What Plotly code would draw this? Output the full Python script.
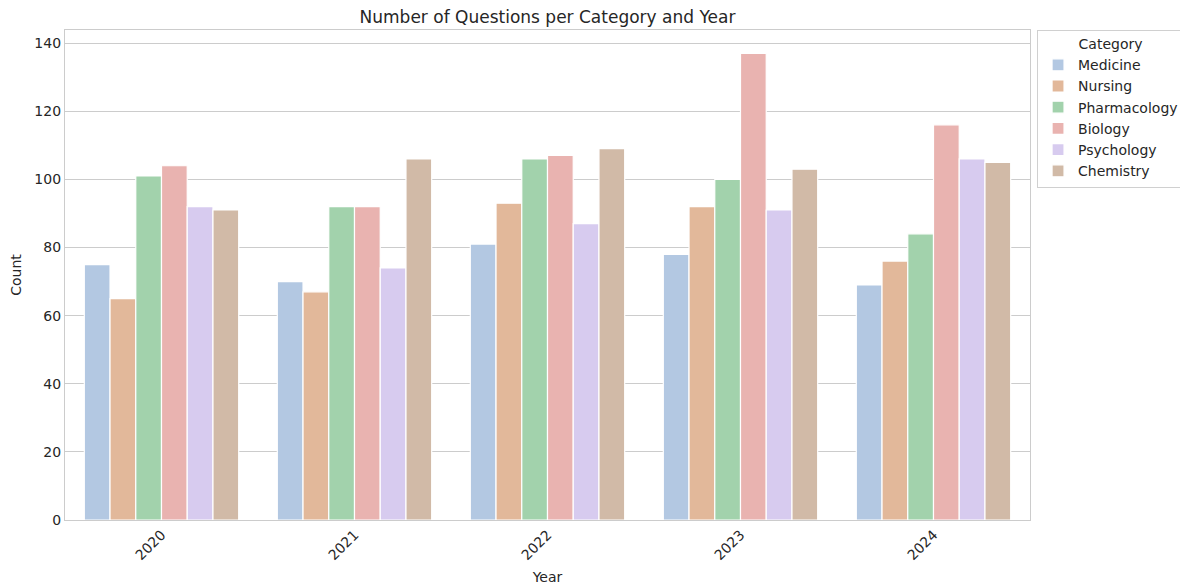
import plotly.graph_objects as go

years = ["2020", "2021", "2022", "2023", "2024"]
categories = ["Medicine", "Nursing", "Pharmacology", "Biology", "Psychology", "Chemistry"]
medicine = [75, 70, 81, 78, 69]
nursing = [65, 67, 93, 92, 76]
pharmacology = [101, 92, 106, 100, 84]
biology = [104, 92, 107, 137, 116]
psychology = [92, 74, 87, 91, 106]
chemistry = [91, 106, 109, 103, 105]
series = [medicine, nursing, pharmacology, biology, psychology, chemistry]
colors = ["#b3c8e2", "#e2b89a", "#a2d2ac", "#e9b3b0", "#d7cbef", "#d1baa7"]

fig = go.Figure()
for name, vals, col in zip(categories, series, colors):
    fig.add_trace(go.Bar(
        x=years, y=vals, name=name,
        marker=dict(color=col, line=dict(color="white", width=1.2)),
    ))

# page body has an 8px default margin; compensate
W, H = 1180, 580
font_family = "DejaVu Sans"
txt = "#262626"
fig.update_layout(
    width=W, height=H,
    barmode="group", bargap=0.2, bargroupgap=0,
    paper_bgcolor="white", plot_bgcolor="white",
    margin=dict(l=57, r=158, t=22, b=68, autoexpand=False),
    font=dict(family=font_family, size=14, color=txt),
    title=dict(text="Number of Questions per Category and Year", x=0.5, xanchor="center",
               xref="paper", y=1 - 9/H, yanchor="middle", yref="container",
               font=dict(size=17, color=txt)),
    legend=dict(
        title=dict(text="Category", side="top center", font=dict(size=14)),
        x=1.0073, y=1.0, xanchor="left", yanchor="top",
        bordercolor="#d0d0d0", borderwidth=1, bgcolor="white",
        font=dict(size=14), tracegroupgap=0, itemwidth=30,
    ),
    xaxis=dict(
        title=dict(text="Year", standoff=10, font=dict(size=14)),
        tickangle=-45, showgrid=False, showline=True, linecolor="#cccccc",
        linewidth=1.2, mirror=True, ticks="", range=[-0.5, 4.5],
    ),
    yaxis=dict(
        title=dict(text="Count", standoff=12, font=dict(size=14)),
        range=[0, 143.85], dtick=20, showgrid=True, gridcolor="#cccccc",
        gridwidth=1, showline=True, linecolor="#cccccc", linewidth=1.2,
        mirror=True, zeroline=False, ticks="",
    ),
)

fig.write_html("out.html")
